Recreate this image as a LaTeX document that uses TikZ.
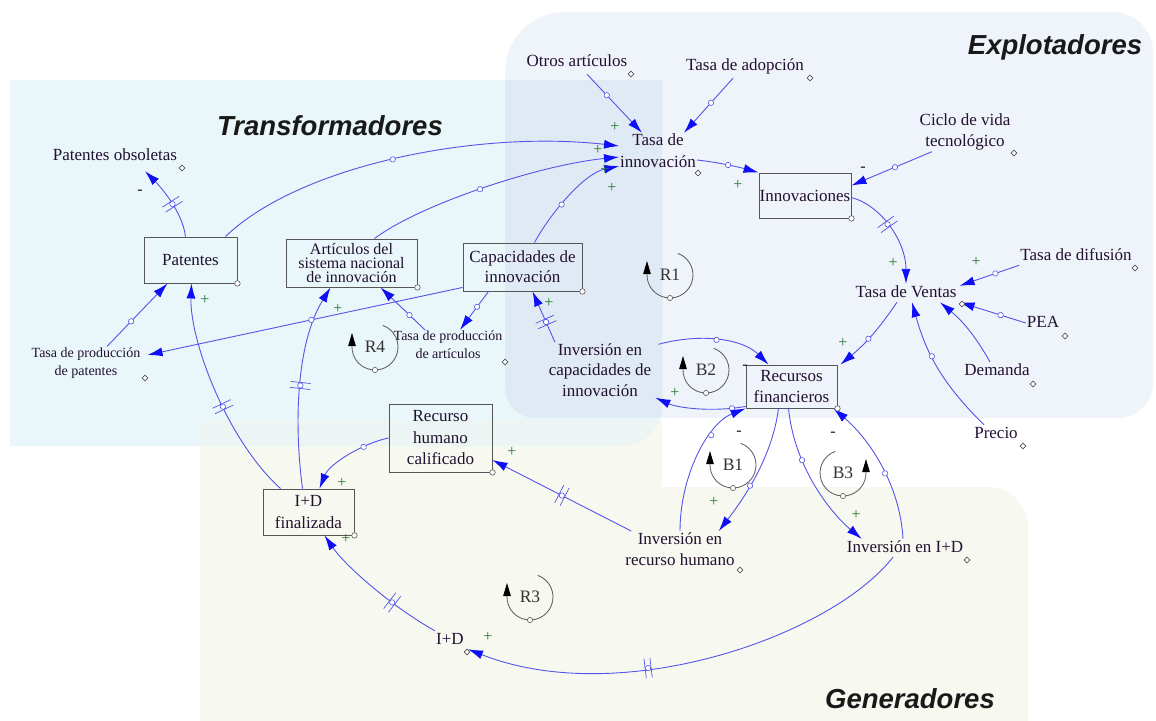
\documentclass[tikz,border=0pt]{standalone}
\usepackage{fontspec}
\setmainfont{Liberation Serif}
\setsansfont{Liberation Sans}
\usetikzlibrary{arrows.meta,decorations.markings,shapes.geometric}

\definecolor{exfill}{RGB}{239,243,250}
\definecolor{trfill}{RGB}{233,246,250}
\definecolor{gnfill}{RGB}{247,249,241}
\definecolor{extr}{RGB}{224,234,245}
\definecolor{gntr}{RGB}{236,245,244}
\definecolor{linkblue}{RGB}{84,84,232}
\definecolor{tipblue}{RGB}{15,15,245}
\definecolor{txt}{RGB}{34,16,48}
\definecolor{boxgrey}{RGB}{85,85,85}
\definecolor{plusgreen}{RGB}{40,120,50}

% feedback loop marker: name, centre, label, side (1 = arrow on the left, -1 = on the right)
\newcommand\fbloop[4]{%
  \node[looplbl] (#1) at (#2) {#3};
  \begin{scope}[shift={(#1.center)},xscale=#4]
    \draw[loopline] (70:23pt) arc[start angle=70,end angle=-180,radius=23pt] -- ++(0,14pt);
    \draw[loopdot] (0,-23pt) circle[radius=2.6pt];
  \end{scope}}

\tikzset{
  var/.style={font=\fontsize{17}{21.5}\selectfont, text=txt, align=center, inner sep=1pt},
  onevar/.style={var, text height=12pt, text depth=4pt},
  smallvar/.style={var, font=\fontsize{14}{18}\selectfont},
  stock/.style={var, draw=boxgrey, line width=0.9pt, inner sep=0pt},
  regiontitle/.style={font=\fontsize{27.5}{30}\selectfont\sffamily\bfseries\itshape, text=black!90, inner sep=0pt},
  link/.style={draw=linkblue, line width=0.9pt, -{Latex[length=15pt,width=9pt,color=tipblue]}},
  ring/.style={postaction={decorate,decoration={markings,mark=at position #1 with {\draw[arrows=-,draw=linkblue,fill=white,line width=0.6pt] (0,0) circle[radius=2.7pt];}}}},
  delay/.style={postaction={decorate,decoration={markings,mark=at position #1 with {\draw[arrows=-,draw=linkblue,line width=0.7pt] (-3pt,-10pt) -- (-3pt,10pt) (3pt,-10pt) -- (3pt,10pt); \draw[arrows=-,draw=linkblue,fill=white,line width=0.6pt] (0,0) circle[radius=2.7pt];}}}},
  cdot/.style={circle, draw=boxgrey, fill=white, inner sep=0pt, minimum size=5.5pt, line width=0.6pt},
  dmd/.style={diamond, draw=boxgrey, fill=white, inner sep=0pt, minimum size=6pt, line width=0.6pt},
  possign/.style={font=\fontsize{16}{16}\selectfont, text=plusgreen, inner sep=0pt},
  negsign/.style={font=\fontsize{16}{16}\selectfont, text=txt, inner sep=0pt},
  looplbl/.style={font=\fontsize{17.5}{18}\selectfont, text=black!80, inner sep=0pt},
  loopline/.style={draw=black!65, line width=0.8pt, -{Triangle[length=13pt,width=7.5pt,color=black]}},
  loopdot/.style={draw=black!65, fill=white, line width=0.6pt}
}

\begin{document}
\begin{tikzpicture}[x=1pt,y=-1pt]
\useasboundingbox (0,0) rectangle (1156,720);

% ---- sector regions ----
\fill[gnfill] (200,420) -- (662,420) -- (662,487) -- (988,487) arc[start angle=90,end angle=0,radius=40pt] -- (1028,725) -- (200,725) -- cycle;
\fill[exfill] (505,388) -- (505,72) arc[start angle=180,end angle=90,radius=60pt] -- (1113,12) arc[start angle=90,end angle=0,radius=40pt] -- (1153,383) arc[start angle=0,end angle=-90,radius=35pt] -- (535,418) arc[start angle=-90,end angle=-180,radius=30pt] -- cycle;
\fill[trfill] (10,80) -- (662,80) -- (662,406) arc[start angle=0,end angle=-90,radius=40pt] -- (10,446) -- cycle;
\begin{scope}
  \clip (10,80) -- (662,80) -- (662,406) arc[start angle=0,end angle=-90,radius=40pt] -- (10,446) -- cycle;
  \fill[extr] (505,388) -- (505,72) arc[start angle=180,end angle=90,radius=60pt] -- (1113,12) arc[start angle=90,end angle=0,radius=40pt] -- (1153,383) arc[start angle=0,end angle=-90,radius=35pt] -- (535,418) arc[start angle=-90,end angle=-180,radius=30pt] -- cycle;
  \fill[gntr] (200,420) -- (662,420) -- (662,487) -- (200,487) -- cycle;
\end{scope}

\node[regiontitle] (tTrans) at (330,126) {Transformadores};
\node[regiontitle] (tExpl) at (1055,47) {Explotadores};
\node[regiontitle] (tGen) at (910,699) {Generadores};

% ---- variables ----
\node[onevar] (otros) at (577,62) {Otros artículos};
\node[onevar] (adop) at (745,66) {Tasa de adopción};
\node[var, font=\fontsize{17}{22}\selectfont] (tinn) at (658,151) {Tasa de\\innovación};
\node[stock, minimum width=92pt, minimum height=45pt] (innov) at (805,195.5) {Innovaciones};
\node[var] (ciclo) at (965,132) {Ciclo de vida\\tecnológico};
\node[onevar] (ventas) at (906,293) {Tasa de Ventas};
\node[onevar] (difus) at (1076,256) {Tasa de difusión};
\node[onevar] (pea) at (1043,323) {PEA};
\node[onevar] (demanda) at (997,371) {Demanda};
\node[onevar] (precio) at (996,434) {Precio};
\node[stock, minimum width=91pt, minimum height=43pt] (recfin) at (791.5,386.5) {Recursos\\financieros};
\node[var, font=\fontsize{17}{20.5}\selectfont] (invcap) at (600,370) {Inversión en\\capacidades de\\innovación};
\node[var] (invrh) at (680,549) {Inversión en\\recurso humano};
\node[onevar] (invid) at (905,548) {Inversión en I+D};
\node[onevar] (idn) at (450,640) {I+D};
\node[stock, minimum width=91pt, minimum height=46pt] (idfin) at (308.5,512) {I+D\\finalizada};
\node[stock, minimum width=103pt, minimum height=68pt] (rhc) at (440.5,438) {Recurso\\humano\\calificado};
\node[stock, minimum width=93pt, minimum height=46pt] (patentes) at (190.5,260) {Patentes};
\node[onevar] (patobs) at (115,156) {Patentes obsoletas};
\node[smallvar] (tpp) at (86,363) {Tasa de producción\\de patentes};
\node[stock, minimum width=131pt, minimum height=48pt, font=\fontsize{16}{14}\selectfont] (articulos) at (351.5,263) {Artículos del\\sistema nacional\\de innovación};
\node[stock, minimum width=119pt, minimum height=48pt, font=\fontsize{17}{20}\selectfont] (capac) at (522.5,267) {Capacidades de\\innovación};
\node[smallvar] (tpa) at (448,345) {Tasa de producción\\de artículos};

% ---- causal links ----
\draw[link, ring=0.36] ([xshift=10pt,yshift=-3pt]otros.south) -- ([xshift=-16pt]tinn.north);
\draw[link, ring=0.45] ([xshift=-12pt,yshift=-3pt]adop.south) -- ([xshift=26pt]tinn.north);
\draw[link, ring=0.45] ([xshift=-12pt]patentes.north east) .. controls +(75,-72) and +(-140,-16) .. ([yshift=5pt]tinn.west);
\draw[link, ring=0.45] ([xshift=23pt]articulos.north) .. controls +(45,-34) and +(-80,8) .. ([yshift=-6pt]tinn.west);
\draw[link, ring=0.4] ([xshift=12pt]capac.north) .. controls +(15,-28) and +(-35,7) .. ([yshift=3pt]tinn.south west);
\draw[link, ring=0.5] ([yshift=-9pt]tinn.east) .. controls +(20,2) and +(-18,-5) .. (innov.north west);
\draw[link, ring=0.46] ([xshift=-33pt]ciclo.south) -- ([yshift=10pt]innov.east);
\draw[link, delay=0.42] ([yshift=-2pt]innov.east) .. controls +(30,8) and +(0,-42) .. (ventas.north);
\draw[link, ring=0.4] (difus.south west) -- ([xshift=2pt,yshift=-2pt]ventas.north east);
\draw[link, ring=0.38] (pea.west) -- ([xshift=2pt]ventas.south east);
\draw[link] ([xshift=-7pt]demanda.north) to[bend right=10] ([xshift=34pt]ventas.south);
\draw[link, ring=0.6] ([xshift=-12pt]precio.north) to[bend left=15] ([xshift=6pt]ventas.south);
\draw[link, ring=0.55] ([xshift=-9pt]ventas.south) to[bend left=8] ([xshift=3pt]recfin.north east);
\draw[link, ring=0.5] ([xshift=6pt,yshift=-2pt]invcap.north east) .. controls +(45,-12) and +(-25,-25) .. ([xshift=-23pt]recfin.north);
\draw[link, ring=0.15] ([yshift=2pt]recfin.south west) .. controls +(-35,6) and +(22,10) .. ([xshift=3pt]invcap.south east);
\draw[link, delay=0.4] ([xshift=-45pt]invcap.north) -- ([xshift=10pt]capac.south);
\draw[link, ring=0.6] ([xshift=-13pt]recfin.south) .. controls +(-6,47) and +(27,-35) .. ([xshift=-17pt]invrh.north east);
\draw[link, ring=0.7] (invrh.north) .. controls +(0,-55) and +(-38,15) .. (recfin.south west);
\draw[link, ring=0.35] ([xshift=-3pt]recfin.south) .. controls +(6,60) and +(-30,-25) .. ([xshift=16pt]invid.north west);
\draw[link, ring=0.45] ([xshift=-2pt]invid.north) .. controls +(-3,-55) and +(35,30) .. ([xshift=-4pt]recfin.south east);
\draw[link, delay=0.5] ([xshift=7pt]invrh.north west) -- ([yshift=-22pt]rhc.east);
\draw[link, ring=0.3] (rhc.west) .. controls +(-25,5) and +(10,-25) .. ([xshift=11pt]idfin.north);
\draw[link, delay=0.6] ([xshift=-12pt]invid.south) .. controls +(-63,80) and +(152,60) .. ([xshift=3pt]idn.south east);
\draw[link, delay=0.35] (idn.north west) .. controls +(-40,-22) and +(22,32) .. ([xshift=16pt]idfin.south);
\draw[link, delay=0.44] ([xshift=-28pt]idfin.north) .. controls +(-55,-50) and +(-2,55) .. ([xshift=1pt]patentes.south);
\draw[link, delay=0.5] ([xshift=-6pt]idfin.north) .. controls +(-8,-60) and +(-35.5,58) .. ([xshift=-21pt]articulos.south);
\draw[link, delay=0.45] ([xshift=-5pt]patentes.north) .. controls +(-3,-25) and +(15,15) .. ([xshift=30pt,yshift=-6pt]patobs.south);
\draw[link, ring=0.4] ([xshift=21pt]tpp.north) -- ([xshift=-23pt]patentes.south);
\draw[link, ring=0.48] ([yshift=4pt]capac.south west) -- ([xshift=6pt,yshift=8pt]tpp.east);
\draw[link, ring=0.35] ([xshift=-23pt]tpa.north) -- ([xshift=29pt]articulos.south);
\draw[link, ring=0.4] ([xshift=-34pt]capac.south) -- ([xshift=12pt]tpa.north);

% ---- level corner dots ----
\foreach \s in {innov,recfin,idfin,rhc,patentes,articulos,capac}
  \node[cdot] (\s-c) at (\s.south east) {};

% ---- auxiliary markers ----
\node[dmd] (otros-d) at (631,74) {};
\node[dmd] (adop-d) at (810,78) {};
\node[dmd] (tinn-d) at (698,173) {};
\node[dmd] (ciclo-d) at (1014,153) {};
\node[dmd] (ventas-d) at (962,304) {};
\node[dmd] (difus-d) at (1135,268) {};
\node[dmd] (pea-d) at (1065,336) {};
\node[dmd] (demanda-d) at (1033,384) {};
\node[dmd] (precio-d) at (1023,446) {};
\node[dmd] (invrh-d) at (740,570) {};
\node[dmd] (invid-d) at (967,560) {};
\node[dmd] (idn-d) at (467,652) {};
\node[dmd] (patobs-d) at (182,168) {};
\node[dmd] (tpp-d) at (145,378) {};
\node[dmd] (tpa-d) at (505,362) {};

% ---- polarities ----
\node[possign] (s1) at (615,127) {+};
\node[possign] (s2) at (598,150) {+};
\node[possign] (s3) at (605,170) {+};
\node[possign] (s4) at (612,188) {+};
\node[possign] (s5) at (738,185) {+};
\node[negsign] (s6) at (863,169) {-};
\node[possign] (s7) at (893,263) {+};
\node[possign] (s8) at (976,262) {+};
\node[possign] (s9) at (843,343) {+};
\node[negsign] (s10) at (745,367) {-};
\node[possign] (s11) at (675,393) {+};
\node[possign] (s12) at (549,303) {+};
\node[negsign] (s13) at (739,433) {-};
\node[possign] (s14) at (714,502) {+};
\node[negsign] (s15) at (833,434) {-};
\node[possign] (s16) at (856,515) {+};
\node[possign] (s17) at (512,452) {+};
\node[possign] (s18) at (342,483) {+};
\node[possign] (s19) at (346,539) {+};
\node[possign] (s20) at (488,637) {+};
\node[possign] (s21) at (205,300) {+};
\node[possign] (s22) at (338,309) {+};
\node[negsign] (s23) at (140,192) {-};

% ---- feedback loops ----
\fbloop{R1}{670,275}{R1}{1}
\fbloop{R4}{375,347}{R4}{1}
\fbloop{B2}{706,370}{B2}{1}
\fbloop{B1}{733,465}{B1}{1}
\fbloop{B3}{843,473}{B3}{-1}
\fbloop{R3}{530,597}{R3}{1}
\end{tikzpicture}
\end{document}
